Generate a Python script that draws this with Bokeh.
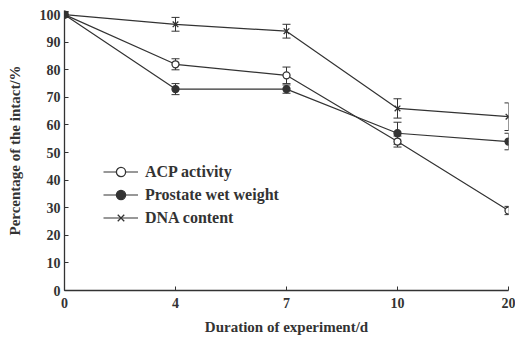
from bokeh.plotting import figure
from bokeh.models import ColumnDataSource, Whisker, TeeHead, Legend, LegendItem, FixedTicker
from bokeh.embed import file_html
from bokeh.resources import INLINE

days = ["0", "4", "7", "10", "20"]
acp = [100, 82, 78, 54, 29]
acp_err = [1, 2, 3, 2, 1.5]
pww = [100, 73, 73, 57, 54]
pww_err = [1, 2, 1.5, 4, 3]
dna = [100, 96.5, 94, 66, 63]
dna_err = [1, 2.5, 2.5, 3.5, 5]
y_ticks = list(range(0, 101, 10))

xs = list(range(len(days)))
C = "#333333"
FONT = "Liberation Serif"

p = figure(width=515, height=337, output_backend="svg", toolbar_location=None,
           x_range=(0, 4.0), y_range=(0, 101.5),
           min_border_left=64, min_border_right=7, min_border_top=10, min_border_bottom=46)
p.outline_line_color = None
p.xgrid.visible = False
p.ygrid.visible = False

def add_series(vals, errs, marker, fill, size):
    src = ColumnDataSource(dict(x=xs, y=vals,
                                lo=[v - e for v, e in zip(vals, errs)],
                                hi=[v + e for v, e in zip(vals, errs)]))
    w = Whisker(source=src, base="x", upper="hi", lower="lo", line_color=C, line_width=1,
                upper_head=TeeHead(size=8, line_color=C, line_width=1),
                lower_head=TeeHead(size=8, line_color=C, line_width=1))
    p.add_layout(w)
    r1 = p.line("x", "y", source=src, line_color=C, line_width=1.2)
    r2 = p.scatter("x", "y", source=src, marker=marker, size=size, line_color=C,
                   fill_color=fill, line_width=1.3)
    return [r1, r2]

ra = add_series(acp, acp_err, "circle", "white", 7)
rp = add_series(pww, pww_err, "circle", C, 7)
rd = add_series(dna, dna_err, "x", C, 8)

legend = Legend(items=[LegendItem(label="ACP activity", renderers=ra),
                       LegendItem(label="Prostate wet weight", renderers=rp),
                       LegendItem(label="DNA content", renderers=rd)],
                location=(39, 61), border_line_color=None, background_fill_alpha=0,
                label_text_font=FONT, label_text_font_style="bold", label_text_font_size="16px",
                label_text_color=C, glyph_width=35, glyph_height=23, label_height=23,
                spacing=0, padding=2, margin=0, label_standoff=7)
p.add_layout(legend)

p.xaxis.ticker = FixedTicker(ticks=xs)
p.xaxis.major_label_overrides = {i: d for i, d in enumerate(days)}
p.yaxis.ticker = FixedTicker(ticks=y_ticks)

for ax in (p.xaxis[0], p.yaxis[0]):
    ax.axis_line_color = C
    ax.axis_line_width = 1.3
    ax.major_tick_line_color = C
    ax.major_tick_in = 4
    ax.major_tick_out = 0
    ax.minor_tick_line_color = None
    ax.major_label_text_font = FONT
    ax.major_label_text_font_style = "bold"
    ax.major_label_text_font_size = "14px"
    ax.major_label_text_color = C
    ax.axis_label_text_font = FONT
    ax.axis_label_text_font_style = "bold"
    ax.axis_label_text_font_size = "15px"
    ax.axis_label_text_color = C

p.xaxis.axis_label = "Duration of experiment/d"
p.yaxis.axis_label = "Percentage of the intact/%"
p.xaxis.major_label_standoff = 7
p.xaxis.axis_label_standoff = 8
p.yaxis.major_label_standoff = 4
p.yaxis.axis_label_standoff = 14

open("out.html", "w").write(file_html(p, INLINE))
